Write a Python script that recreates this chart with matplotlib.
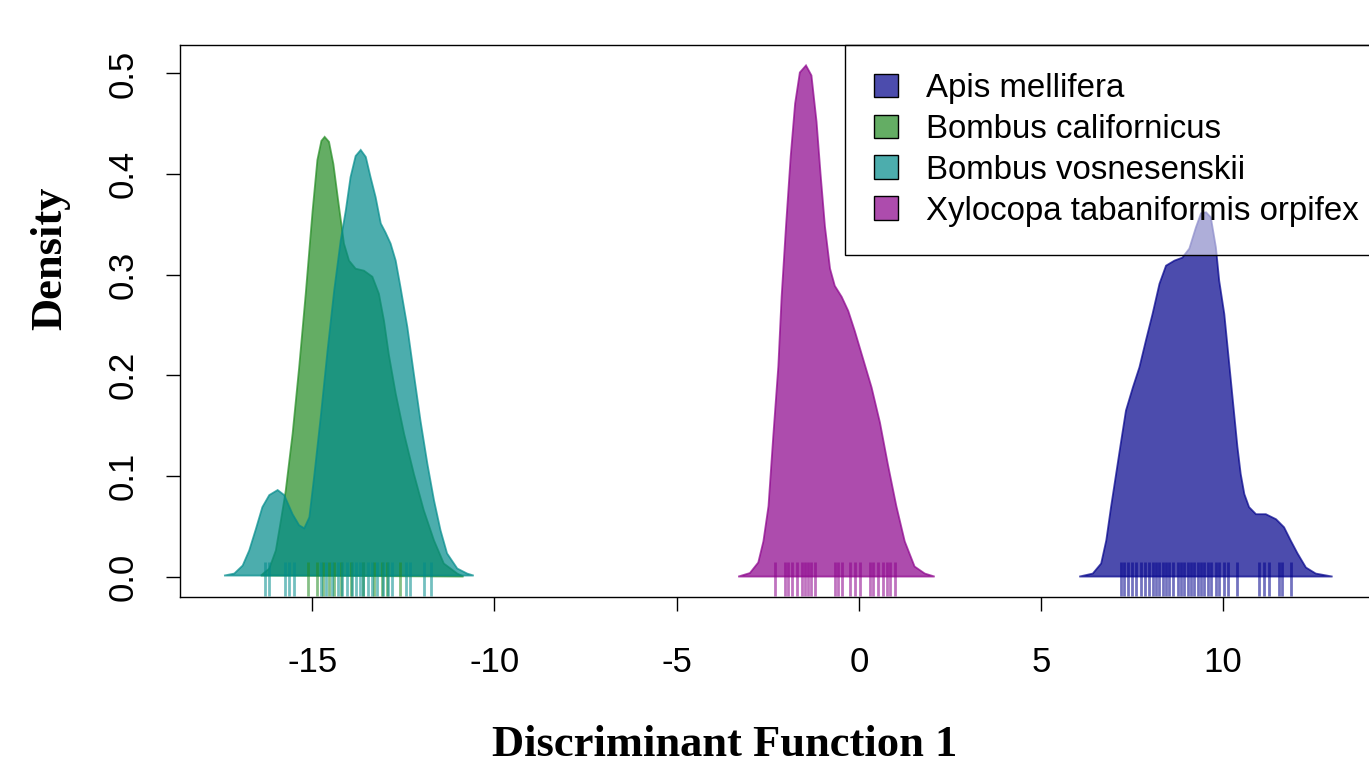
import matplotlib
matplotlib.use("Agg")
import matplotlib.pyplot as plt
from matplotlib.patches import Patch
from matplotlib.colors import to_rgba

plt.rcParams["axes.unicode_minus"] = False

# density curves (x = discriminant score, y = density)
species = ["Apis mellifera", "Bombus californicus", "Bombus vosnesenskii",
           "Xylocopa tabaniformis orpifex"]
colors = ["darkblue", "forestgreen", "darkcyan", "darkmagenta"]

apis_x = [6.05, 6.42, 6.65, 6.79, 6.92, 7.06, 7.20, 7.33, 7.52, 7.70, 7.88, 8.06,
          8.25, 8.43, 8.66, 8.88, 9.07, 9.25, 9.39, 9.53, 9.66, 9.80, 9.89, 10.03,
          10.12, 10.21, 10.30, 10.39, 10.48, 10.58, 10.71, 10.90, 11.17, 11.45,
          11.67, 11.85, 12.04, 12.27, 12.54, 13.0]
apis_y = [0, 0.003, 0.013, 0.036, 0.069, 0.102, 0.135, 0.165, 0.188, 0.208, 0.235,
          0.261, 0.291, 0.309, 0.314, 0.317, 0.326, 0.347, 0.361, 0.362, 0.357,
          0.327, 0.294, 0.261, 0.228, 0.195, 0.162, 0.129, 0.102, 0.082, 0.069,
          0.062, 0.062, 0.057, 0.049, 0.036, 0.023, 0.009, 0.003, 0]

calif_x = [-16.41, -16.18, -16.0, -15.86, -15.73, -15.54, -15.36, -15.18, -14.99,
           -14.86, -14.75, -14.66, -14.54, -14.42, -14.29, -14.13, -13.99, -13.81,
           -13.58, -13.35, -13.17, -13.03, -12.90, -12.71, -12.48, -12.21, -11.94,
           -11.66, -11.39, -11.02, -10.85]
calif_y = [0.001, 0.008, 0.026, 0.056, 0.085, 0.142, 0.208, 0.281, 0.364, 0.414,
           0.433, 0.437, 0.432, 0.410, 0.374, 0.331, 0.314, 0.306, 0.304, 0.298,
           0.281, 0.254, 0.221, 0.182, 0.142, 0.102, 0.066, 0.036, 0.013, 0.003, 0]

vosn_x = [-17.42, -17.14, -16.91, -16.73, -16.55, -16.37, -16.18, -15.95, -15.77,
          -15.54, -15.36, -15.22, -15.08, -14.95, -14.77, -14.58, -14.40, -14.22,
          -14.08, -13.95, -13.81, -13.67, -13.53, -13.40, -13.26, -13.12, -12.99,
          -12.85, -12.71, -12.58, -12.39, -12.21, -12.03, -11.84, -11.66, -11.48,
          -11.30, -11.02, -10.75, -10.57]
vosn_y = [0.001, 0.003, 0.011, 0.026, 0.047, 0.069, 0.081, 0.086, 0.081, 0.062,
          0.051, 0.048, 0.059, 0.099, 0.158, 0.225, 0.284, 0.334, 0.364, 0.397,
          0.418, 0.424, 0.417, 0.397, 0.377, 0.351, 0.342, 0.331, 0.314, 0.288,
          0.248, 0.201, 0.155, 0.112, 0.076, 0.046, 0.023, 0.008, 0.003, 0.001]

xylo_x = [-3.31, -2.99, -2.76, -2.62, -2.48, -2.35, -2.21, -2.12, -2.0, -1.87,
          -1.75, -1.62, -1.45, -1.30, -1.16, -1.05, -0.93, -0.79, -0.66, -0.47,
          -0.29, -0.11, 0.12, 0.35, 0.58, 0.80, 1.03, 1.26, 1.53, 1.81, 2.08]
xylo_y = [0, 0.0035, 0.014, 0.035, 0.070, 0.139, 0.209, 0.278, 0.348, 0.418,
          0.470, 0.501, 0.508, 0.498, 0.452, 0.400, 0.348, 0.306, 0.289, 0.278,
          0.264, 0.244, 0.216, 0.188, 0.153, 0.111, 0.070, 0.035, 0.010, 0.003, 0]

# rug positions
apis_rug = [7.20, 7.29, 7.38, 7.50, 7.61, 7.74, 7.84, 7.95, 8.06, 8.16, 8.25, 8.34,
            8.43, 8.52, 8.63, 8.75, 8.84, 8.93, 9.02, 9.11, 9.21, 9.30, 9.39, 9.48,
            9.57, 9.66, 9.80, 9.89, 10.03, 10.12, 10.39, 10.99, 11.12, 11.26,
            11.53, 11.62, 11.85]
calif_rug = [-15.12, -14.86, -14.70, -14.55, -14.40, -14.20, -13.95, -13.60,
             -13.30, -13.10, -12.95, -12.60]
vosn_rug = [-16.30, -16.18, -15.75, -15.64, -15.50, -14.75, -14.62, -14.45, -14.30,
            -14.18, -14.05, -13.92, -13.80, -13.70, -13.60, -13.48, -13.35, -13.22,
            -13.05, -12.92, -12.80, -12.44, -12.32, -11.94, -11.75]
xylo_rug = [-2.30, -2.03, -1.94, -1.84, -1.71, -1.57, -1.48, -1.39, -1.30, -1.21,
            -0.66, -0.57, -0.47, -0.25, -0.11, 0.03, 0.30, 0.39, 0.53, 0.67, 0.76,
            0.85, 0.99]

curves = [(apis_x, apis_y), (calif_x, calif_y), (vosn_x, vosn_y), (xylo_x, xylo_y)]
rugs = [apis_rug, calif_rug, vosn_rug, xylo_rug]

W, H = 1369, 769
fig = plt.figure(figsize=(W / 100, H / 100), dpi=100)
ax = fig.add_axes([180 / W, 1 - 597 / H, (1377 - 180) / W, (597 - 45) / H])

for (x, y), c in zip(curves, colors):
    ax.fill(x, y, facecolor=to_rgba(c, 0.7), edgecolor=to_rgba(c, 0.7), lw=1.3)
for r, c in zip(rugs, colors):
    ax.vlines(r, -0.019, 0.014, colors=[to_rgba(c, 0.55)], lw=2.0)

ax.set_xlim(-18.63, 14.22)
ax.set_ylim(-0.0203, 0.5283)
ax.set_xticks([-15, -10, -5, 0, 5, 10])
ax.set_yticks([0, 0.1, 0.2, 0.3, 0.4, 0.5])
ax.set_yticklabels(["0.0", "0.1", "0.2", "0.3", "0.4", "0.5"])
for s in ax.spines.values():
    s.set_linewidth(1.0)
ax.tick_params(length=10, width=1.0, labelsize=25)
ax.tick_params(axis="x", pad=25)
ax.tick_params(axis="y", pad=19)
for lab in ax.get_xticklabels() + ax.get_yticklabels():
    lab.set_family("Liberation Sans")
for lab in ax.get_yticklabels():
    lab.set_rotation(90)
    lab.set_va("center")

# legend frame runs off the right edge of the picture, as in the original
handles = [Patch(facecolor=to_rgba(c, 0.7), edgecolor="black", lw=1.0) for c in colors]
leg = ax.legend(handles, species, loc="upper right", bbox_to_anchor=(1.008, 1),
                borderaxespad=0, fancybox=False, edgecolor="black",
                prop={"family": "Liberation Sans", "size": 23.8},
                handlelength=0.73, handleheight=0.73, handletextpad=0.85,
                borderpad=0.85, labelspacing=0.3)
leg.get_frame().set_alpha(None)
leg.get_frame().set_facecolor((1, 1, 1, 0.55))
leg.get_frame().set_linewidth(1.0)

fig.text(725 / W, 1 - 745 / H, "Discriminant Function 1", ha="center", va="center",
         family="Liberation Serif", weight="bold", size=32)
fig.text(50 / W, 1 - 258 / H, "Density", ha="center", va="center", rotation=90,
         family="Liberation Serif", weight="bold", size=32)

fig.savefig("out.png", dpi=100)
